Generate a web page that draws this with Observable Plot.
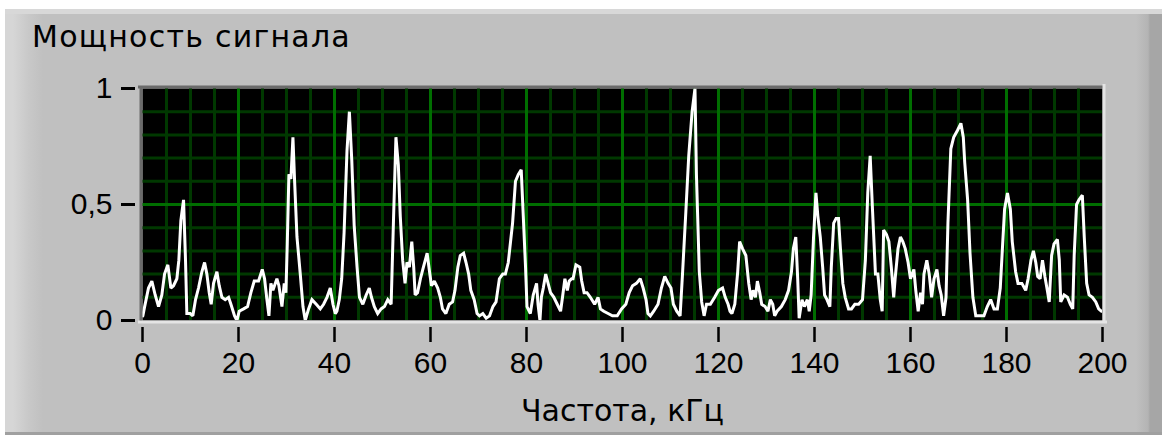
<!DOCTYPE html>
<html>
<head>
<meta charset="utf-8">
<script src="https://cdn.jsdelivr.net/npm/d3@7"></script>
<script src="https://cdn.jsdelivr.net/npm/@observablehq/plot@0.6"></script>
<style>
html,body{margin:0;padding:0;background:#fff;width:1162px;height:435px;overflow:hidden}
#panel{position:absolute;left:5px;top:9px;width:1157px;height:426px;box-sizing:border-box;
  border-top:5px solid #d8d8d8;border-bottom:3px solid #a0a0a0;
  background:linear-gradient(to right,#d6d6d6 0px,#d6d6d6 8px,#c8c8c8 24px,#c0c0c0 38px,#c0c0c0 calc(100% - 26px),#b4b4b4 calc(100% - 14px),#a6a6a6 calc(100% - 12px),#a6a6a6 100%)}
#title{position:absolute;left:32px;top:22px;font-family:"DejaVu Sans",sans-serif;font-size:30px;line-height:30px;letter-spacing:1.25px;color:#000;white-space:nowrap}
#chart{position:absolute;left:0;top:60px}
</style>
</head>
<body>
<div id="panel"></div>
<div id="title"></div>
<div id="chart"></div>
<script>
const titleText = "Мощность сигнала";
const xLabelText = "Частота, кГц";

const freqKHz = [
0.07,0.35,1.25,1.95,2.64,3.34,4.03,4.59,5.28,5.91,
6.46,7.16,7.57,7.99,8.55,8.96,9.24,9.94,10.49,11.05,
11.67,12.37,12.93,13.41,13.9,14.31,14.8,15.5,15.98,16.54,
17.23,17.93,18.42,19.18,19.67,20.15,21.06,21.89,22.58,23.28,
24.18,24.95,25.43,25.92,26.34,26.75,27.17,28.0,28.42,29.05,
29.53,29.88,30.16,30.5,30.92,31.34,31.69,32.18,32.87,33.43,
33.91,34.6,35.3,36.2,37.04,37.73,38.43,39.12,39.68,40.17,
40.5,41.0,41.5,42.0,42.6,43.1,43.6,44.1,44.7,45.2,
45.9,46.6,47.25,47.7,48.3,49.0,49.7,50.4,51.1,51.8,
52.3,52.8,53.3,53.7,54.2,54.7,55.1,55.6,56.1,56.5,
56.8,57.3,57.9,58.4,59.3,59.8,60.2,60.8,61.5,62.05,
62.5,63.2,63.9,64.6,65.1,65.7,66.2,66.9,67.4,67.95,
68.4,69.1,69.7,70.2,70.9,71.6,72.3,73.0,73.65,74.35,
75.05,75.6,76.2,77.1,77.7,78.3,78.9,79.2,79.8,80.1,
80.8,81.4,82.1,82.4,82.8,83.1,83.5,84.0,84.5,85.0,
85.7,86.4,87.1,87.5,88.0,88.5,88.9,89.4,89.7,90.3,
91.1,91.5,92.0,92.6,93.3,94.2,94.9,95.4,96.1,97.0,
97.9,98.9,99.8,100.7,101.4,102.1,102.9,103.7,104.3,104.9,
105.3,105.8,106.5,107.4,108.1,108.8,109.5,110.1,110.6,111.3,
112.0,112.5,113.2,113.8,114.5,115.1,115.4,116.0,116.5,117.0,
117.5,118.3,119.2,120.0,120.85,121.4,122.0,122.4,122.8,123.4,
124.0,124.4,125.0,125.7,126.3,126.8,127.2,127.7,128.1,128.6,
129.0,129.7,130.3,130.8,131.3,131.7,132.2,133.1,133.9,134.6,
135.2,135.6,136.1,136.5,136.8,137.4,137.9,138.5,138.9,139.3,
139.8,140.3,140.7,141.2,141.7,142.1,142.6,143.2,143.5,144.0,
144.5,145.0,145.4,145.9,146.4,147.1,147.7,148.4,149.2,150.0,
150.6,151.1,151.6,152.1,152.7,153.2,153.7,154.1,154.4,155.0,
155.5,156.0,156.5,156.8,157.4,157.9,158.4,158.9,159.5,160.0,
160.7,161.1,161.6,162.1,162.5,162.8,163.4,163.9,164.4,164.9,
165.5,165.95,166.4,166.9,167.4,167.8,168.4,169.0,169.8,170.5,
171.0,171.3,171.9,172.4,173.0,173.6,174.5,175.3,176.0,176.7,
177.4,178.1,178.7,179.2,179.6,180.2,180.8,181.2,181.9,182.4,
183.2,184.0,184.5,185.1,185.6,186.1,186.5,187.0,187.5,188.0,
188.5,188.9,189.4,189.9,190.6,191.0,191.3,192.0,192.7,193.3,
193.8,194.1,194.6,195.1,195.8,196.2,196.7,197.2,197.9,198.6,
199.2,199.8
];

const power = [
0.02,0.05,0.14,0.17,0.11,0.06,0.11,0.20,0.24,0.14,
0.15,0.18,0.26,0.43,0.52,0.26,0.03,0.03,0.02,0.09,
0.14,0.21,0.25,0.20,0.12,0.07,0.16,0.21,0.15,0.10,
0.09,0.10,0.07,0.02,0.00,0.04,0.05,0.06,0.12,0.17,
0.17,0.22,0.18,0.09,0.02,0.16,0.13,0.18,0.15,0.06,
0.16,0.12,0.33,0.63,0.61,0.79,0.60,0.36,0.20,0.06,
0.00,0.05,0.09,0.07,0.05,0.07,0.10,0.14,0.07,0.03,
0.04,0.09,0.18,0.38,0.73,0.90,0.69,0.41,0.23,0.10,
0.07,0.11,0.14,0.10,0.06,0.03,0.05,0.06,0.09,0.07,
0.44,0.79,0.67,0.45,0.26,0.16,0.25,0.23,0.34,0.23,
0.11,0.12,0.18,0.22,0.29,0.21,0.15,0.17,0.14,0.10,
0.05,0.03,0.07,0.08,0.13,0.23,0.28,0.29,0.25,0.20,
0.13,0.09,0.03,0.02,0.03,0.01,0.02,0.06,0.08,0.18,
0.20,0.20,0.25,0.42,0.60,0.63,0.65,0.51,0.23,0.06,
0.03,0.11,0.16,0.07,0.00,0.10,0.14,0.20,0.16,0.12,
0.10,0.07,0.04,0.10,0.18,0.13,0.17,0.18,0.18,0.24,
0.23,0.17,0.12,0.12,0.10,0.07,0.10,0.05,0.04,0.03,
0.02,0.02,0.05,0.07,0.12,0.15,0.16,0.18,0.14,0.09,
0.03,0.02,0.04,0.07,0.14,0.19,0.16,0.14,0.07,0.04,
0.02,0.20,0.47,0.71,0.90,1.00,0.63,0.21,0.08,0.02,
0.07,0.07,0.10,0.13,0.14,0.10,0.07,0.04,0.03,0.07,
0.21,0.34,0.31,0.28,0.16,0.09,0.13,0.10,0.17,0.12,
0.07,0.06,0.04,0.09,0.07,0.02,0.04,0.06,0.09,0.13,
0.21,0.31,0.36,0.18,0.01,0.09,0.06,0.09,0.04,0.11,
0.36,0.55,0.45,0.36,0.23,0.11,0.09,0.06,0.23,0.42,
0.44,0.44,0.31,0.16,0.10,0.05,0.05,0.07,0.07,0.09,
0.26,0.55,0.71,0.47,0.20,0.20,0.09,0.04,0.39,0.37,
0.34,0.23,0.10,0.18,0.31,0.36,0.34,0.31,0.25,0.18,
0.22,0.13,0.04,0.12,0.07,0.20,0.26,0.20,0.10,0.18,
0.22,0.15,0.11,0.02,0.10,0.42,0.74,0.79,0.82,0.85,
0.79,0.68,0.52,0.29,0.10,0.02,0.02,0.02,0.06,0.09,
0.05,0.05,0.14,0.33,0.48,0.55,0.48,0.34,0.21,0.16,
0.16,0.13,0.18,0.26,0.30,0.25,0.19,0.18,0.26,0.19,
0.13,0.08,0.28,0.33,0.35,0.26,0.08,0.11,0.10,0.07,
0.05,0.28,0.50,0.52,0.54,0.36,0.16,0.11,0.10,0.08,
0.05,0.04
];

const xTicks = [0,20,40,60,80,100,120,140,160,180,200];
const xGridMajor = [20,40,60,80,100,120,140,160,180];
const xGridMinor = [5,10,15,25,30,35,45,50,55,65,70,75,85,90,95,105,110,115,125,130,135,145,150,155,165,170,175,185,190,195];
const yTicks = [0,0.5,1];
const yGridMajor = [0.5];
const yGridMinor = [0.1,0.2,0.3,0.4,0.6,0.7,0.8,0.9];

document.getElementById("title").textContent = titleText;

const idx = d3.range(freqKHz.length);
const digitFont = "Liberation Sans, Arial, sans-serif";

const chart = Plot.plot({
  width: 1162,
  height: 375,
  marginTop: 28,
  marginBottom: 115,
  marginLeft: 142,
  marginRight: 60,
  style: {background: "transparent", color: "#000"},
  x: {domain: [0, 200]},
  y: {domain: [0, 1]},
  marks: [
    Plot.frame({fill: "#000", stroke: null}),
    Plot.ruleX(xGridMinor, {stroke: "#003800", strokeWidth: 3}),
    Plot.ruleY(yGridMinor, {stroke: "#003800", strokeWidth: 3}),
    Plot.ruleX(xGridMajor, {stroke: "#006e00", strokeWidth: 3}),
    Plot.ruleY(yGridMajor, {stroke: "#006e00", strokeWidth: 3}),
    Plot.line(idx, {x: i => freqKHz[i], y: i => power[i], stroke: "#fff", strokeWidth: 3, clip: "frame", strokeLinejoin: "miter", strokeMiterlimit: 2}),
    Plot.frame({anchor: "top", stroke: "#6b6b6b", strokeWidth: 3, dy: -1.5, insetLeft: -3}),
    Plot.frame({anchor: "left", stroke: "#6b6b6b", strokeWidth: 3, dx: -1.5}),
    Plot.frame({anchor: "bottom", stroke: "#e4e4e4", strokeWidth: 3, dy: 1.5, insetLeft: -3, insetRight: -3}),
    Plot.frame({anchor: "right", stroke: "#e4e4e4", strokeWidth: 3, dx: 1.5, insetTop: -3}),
    Plot.axisX({ticks: xTicks, tickSize: 15, dy: 7, tickPadding: 9, strokeWidth: 2.5, fontSize: 30, fontFamily: digitFont, label: null, tickFormat: d => String(d)}),
    Plot.axisY({ticks: yTicks, tickSize: 14, dx: -7, tickPadding: 9, strokeWidth: 3, fontSize: 30, fontFamily: digitFont, label: null, tickFormat: d => String(d).replace(".", ",")}),
    Plot.text([xLabelText], {text: d => d, frameAnchor: "bottom", dy: 91, lineAnchor: "middle", fontSize: 30, fontFamily: "DejaVu Sans, sans-serif", fill: "#000"})
  ]
});
document.getElementById("chart").appendChild(chart);
</script>
</body>
</html>
